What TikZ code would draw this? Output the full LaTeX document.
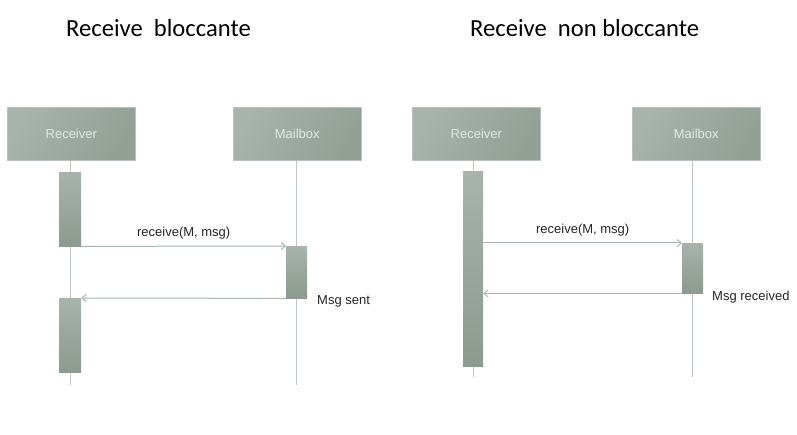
\documentclass[tikz,border=0pt]{standalone}
\usepackage{fontspec}
\setmainfont{Carlito}
\newfontfamily\arialfont{Liberation Sans}
\usetikzlibrary{arrows.meta}
\definecolor{boxA}{RGB}{168,179,171}
\definecolor{boxB}{RGB}{146,160,150}
\definecolor{barB}{RGB}{140,154,144}
\definecolor{lifec}{RGB}{190,198,192}
\definecolor{arrc}{RGB}{170,182,174}
\definecolor{boxtxt}{RGB}{228,232,229}
\tikzset{
  actor/.style={draw=boxA!80!white, line width=0.6pt, left color=boxA, right color=boxB, shading angle=60,
    minimum width=128pt, minimum height=53pt, inner sep=0pt, anchor=north west,
    font=\arialfont\fontsize{13}{15}\selectfont, text=boxtxt},
  actbar/.style={top color=boxA, bottom color=barB, draw=none, inner sep=0pt, anchor=north west},
  lifeline/.style={draw=lifec, line width=1pt},
  msg/.style={draw=arrc, line width=1pt, -{Straight Barb[length=4pt,width=7pt]}},
  msglabel/.style={font=\arialfont\fontsize{13}{15}\selectfont, text=black!85},
  title/.style={font=\fontsize{24.6}{28}\selectfont, anchor=base west, inner sep=0pt}
}
\begin{document}
\begin{tikzpicture}[x=1pt,y=-1pt]
\useasboundingbox[fill=white] (0,0) rectangle (797,435);
% titles
\node[title] (t1) at (66,37) {Receive\ \ bloccante};
\node[title] (t2) at (470,37) {Receive\ \ non bloccante};
% ---------- left diagram ----------
\node[actor] (r1) at (7,107) {Receiver};
\node[actor] (m1) at (233,107) {Mailbox};
\coordinate (r1end) at (70,385);
\coordinate (m1end) at (296,385);
\draw[lifeline] (r1.south -| r1end) -- (r1end);
\draw[lifeline] (m1.south -| m1end) -- (m1end);
\node[actbar, minimum width=22pt, minimum height=74pt] (a1) at (59,172) {};
\node[actbar, minimum width=21pt, minimum height=52pt] (ma1) at (286,246) {};
\node[actbar, minimum width=22pt, minimum height=74pt] (a2) at (59,298) {};
\draw[msg] (a1.south east) -- node[msglabel, above=3pt] (l1) {receive(M, msg)} (ma1.north west);
\draw[msg] (ma1.south west) -- (a2.north east);
\node[msglabel, anchor=north west, inner sep=0pt] (s1) at (317,295) {Msg sent};
% ---------- right diagram ----------
\node[actor] (r2) at (412,107) {Receiver};
\node[actor] (m2) at (632,107) {Mailbox};
\coordinate (r2end) at (473,377);
\coordinate (m2end) at (692,377);
\draw[lifeline] (r2.south -| r2end) -- (r2end);
\draw[lifeline] (m2.south -| m2end) -- (m2end);
\node[actbar, minimum width=20pt, minimum height=195pt] (a3) at (463,171) {};
\node[actbar, minimum width=21pt, minimum height=50pt] (ma2) at (682,243) {};
\draw[msg] (ma2.north west -| a3.east) -- node[msglabel, above=3pt] (l2) {receive(M, msg)} (ma2.north west);
\draw[msg] (ma2.south west) -- (ma2.south west -| a3.east);
\node[msglabel, anchor=north west, inner sep=0pt] (s2) at (712,291) {Msg received};
\end{tikzpicture}
\end{document}
